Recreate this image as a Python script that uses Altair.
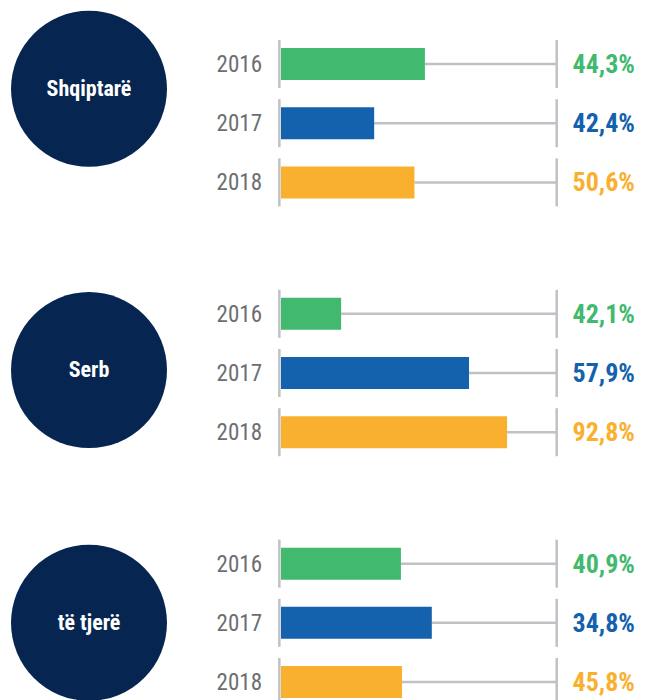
import altair as alt
import pandas as pd

# ---- data ----
groups = ["Shqiptarë", "Serb", "të tjerë"]
years = ["2016", "2017", "2018"]
# bar lengths (share of the grey track, 0-100)
bar_values = [
    [52.2, 33.8, 48.4],
    [21.8, 68.2, 82.0],
    [43.5, 54.7, 43.9],
]
# printed labels
label_values = [
    ["44,3%", "42,4%", "50,6%"],
    ["42,1%", "57,9%", "92,8%"],
    ["40,9%", "34,8%", "45,8%"],
]
year_colors = ["#41b96f", "#1461ad", "#f9b02f"]
navy = "#062651"
grey_text = "#6d6e71"
track = "#c0c1c4"

# ---- layout helpers (row units) ----
GROUP_GAP = 4.22
circle_offset = [0.42, 0.95, 1.0]
HALF_BAR = 16 / 59.2
HALF_TICK = 24 / 59.2

rows = []
for g, name in enumerate(groups):
    for k, yr in enumerate(years):
        pos = g * GROUP_GAP + k
        rows.append({
            "group": name, "year": yr, "pos": pos,
            "top": pos - HALF_BAR, "bot": pos + HALF_BAR,
            "ttop": pos - HALF_TICK, "tbot": pos + HALF_TICK,
            "val": bar_values[g][k], "label": label_values[g][k],
            "zero": 0, "full": 100, "left": -0.6,
        })
df = pd.DataFrame(rows)
circ = pd.DataFrame({
    "group": groups,
    "pos": [g * GROUP_GAP + circle_offset[g] for g in range(len(groups))],
})

W, H = 629, 692
xs = alt.Scale(domain=[0, 100], range=[273, 548.7])
y_dom = [-56 / 59.2, (H - 56) / 59.2]
ys = alt.Scale(domain=y_dom, reverse=True, nice=False, zero=False)
Y = alt.Y("pos:Q", scale=ys, axis=None)
color = alt.Color("year:N", scale=alt.Scale(domain=years, range=year_colors), legend=None)

cond_font = "Roboto Condensed, Liberation Sans Narrow, DejaVu Sans Condensed, Arial Narrow, sans-serif"

base = alt.Chart(df)

track_line = base.mark_rule(color=track, strokeWidth=2.5).encode(
    x=alt.X("val:Q", scale=xs, axis=None), x2="full:Q", y=Y
)
left_tick = base.mark_rule(color=track, strokeWidth=2.5).encode(
    x=alt.X("left:Q", scale=xs, axis=None),
    y=alt.Y("ttop:Q", scale=ys, axis=None), y2="tbot:Q",
)
right_tick = base.mark_rule(color=track, strokeWidth=2.5).encode(
    x=alt.X("full:Q", scale=xs, axis=None),
    y=alt.Y("ttop:Q", scale=ys, axis=None), y2="tbot:Q",
)
bars = base.mark_rect().encode(
    x=alt.X("zero:Q", scale=xs, axis=None), x2="val:Q",
    y=alt.Y("top:Q", scale=ys, axis=None), y2="bot:Q",
    color=color,
)
year_text = base.mark_text(
    align="right", baseline="middle", font=cond_font, fontSize=23, color=grey_text, dy=1
).encode(x=alt.value(254), y=Y, text="year:N")
pct_text = base.mark_text(
    align="left", baseline="middle", font=cond_font, fontSize=26, fontWeight="bold", dy=1
).encode(x=alt.value(564.5), y=Y, text="label:N", color=color)

circles = alt.Chart(circ).mark_point(filled=True, shape="circle", opacity=1, color=navy, size=156 * 156).encode(
    x=alt.value(81), y=Y
)
circle_text = alt.Chart(circ).mark_text(
    align="center", baseline="middle", font=cond_font, fontSize=22, fontWeight="bold", color="white"
).encode(x=alt.value(81), y=Y, text="group:N")

chart = alt.layer(
    circles, circle_text, track_line, left_tick, right_tick, bars, year_text, pct_text
).properties(
    width=W, height=H, autosize=alt.AutoSizeParams(type="none"),
    padding={"left": 0, "right": 0, "top": 0, "bottom": 0},
).configure(background="white", view=alt.ViewConfig(stroke=None))

chart.save("out.html", embed_options={"renderer": "svg", "actions": False})
